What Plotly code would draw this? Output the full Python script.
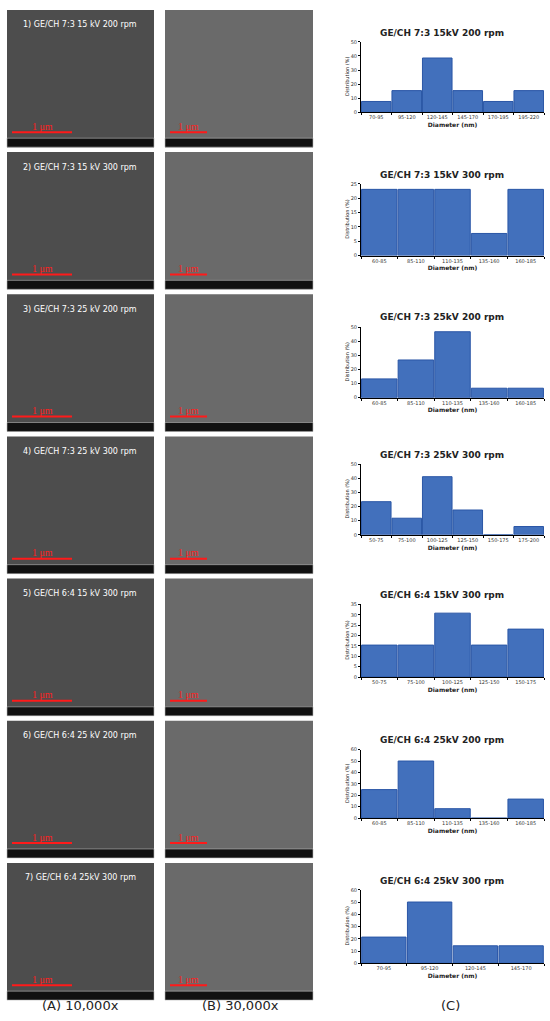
import plotly.graph_objects as go

# ---------------- data ----------------
titles = [
    "GE/CH 7:3 15kV 200 rpm",
    "GE/CH 7:3 15kV 300 rpm",
    "GE/CH 7:3 25kV 200 rpm",
    "GE/CH 7:3 25kV 300 rpm",
    "GE/CH 6:4 15kV 300 rpm",
    "GE/CH 6:4 25kV 200 rpm",
    "GE/CH 6:4 25kV 300 rpm",
]
cats_1 = ["70-95", "95-120", "120-145", "145-170", "170-195", "195-220"]
vals_1 = [7.7, 15.4, 38.5, 15.4, 7.7, 15.4]
cats_2 = ["60-85", "85-110", "110-135", "135-160", "160-185"]
vals_2 = [23.1, 23.1, 23.1, 7.7, 23.1]
cats_3 = ["60-85", "85-110", "110-135", "135-160", "160-185"]
vals_3 = [13.3, 26.7, 46.7, 6.7, 6.7]
cats_4 = ["50-75", "75-100", "100-125", "125-150", "150-175", "175-200"]
vals_4 = [23.5, 11.8, 41.2, 17.6, 0, 5.9]
cats_5 = ["50-75", "75-100", "100-125", "125-150", "150-175"]
vals_5 = [15.4, 15.4, 30.8, 15.4, 23.1]
cats_6 = ["60-85", "85-110", "110-135", "135-160", "160-185"]
vals_6 = [25.0, 50.0, 8.3, 0, 16.7]
cats_7 = ["70-95", "95-120", "120-145", "145-170"]
vals_7 = [21.4, 50.0, 14.3, 14.3]
y_max = [50, 25, 50, 50, 35, 60, 60]
y_dtick = [10, 5, 10, 10, 5, 10, 10]

sem_labels = [
    "1) GE/CH 7:3 15 kV 200 rpm",
    "2) GE/CH 7:3 15 kV 300 rpm",
    "3) GE/CH 7:3 25 kV 200 rpm",
    "4) GE/CH 7:3 25 kV 300 rpm",
    "5) GE/CH 6:4 15 kV 300 rpm",
    "6) GE/CH 6:4 25 kV 200 rpm",
    "7) GE/CH 6:4 25kV 300 rpm",
]
column_labels = ["(A) 10,000x", "(B) 30,000x", "(C)"]

cats = [cats_1, cats_2, cats_3, cats_4, cats_5, cats_6, cats_7]
vals = [vals_1, vals_2, vals_3, vals_4, vals_5, vals_6, vals_7]

# ---------------- layout helpers ----------------
W, H = 550, 1021
def px(x):
    return x / W
def py(y):
    return 1 - y / H

plot_rows = [(39, 110), (182, 254), (326, 397), (464, 535), (605, 678), (751, 820), (892, 966)]
title_y = [30, 173, 316, 455, 596, 741, 883]
PX0, PX1 = 361, 544

FONT = "DejaVu Sans"
BLUE = "#4270BC"
EDGE = "#2A56A6"

fig = go.Figure()
layout = dict(
    width=W, height=H, margin=dict(l=0, r=0, t=0, b=0),
    paper_bgcolor="white", plot_bgcolor="white",
    showlegend=False, bargap=0.03,
    font=dict(family=FONT, color="#222"),
)
annotations = []
shapes = []

def ann(x, y, text, size, color="#222", family=FONT, angle=0):
    annotations.append(dict(
        x=px(x), y=py(y), xref="paper", yref="paper",
        xanchor="center", yanchor="middle",
        text=text, showarrow=False, textangle=angle,
        font=dict(size=size, family=family, color=color),
    ))

for i in range(7):
    n = "" if i == 0 else str(i + 1)
    fig.add_trace(go.Bar(
        x=cats[i], y=vals[i], xaxis="x" + n, yaxis="y" + n,
        marker=dict(color=BLUE, line=dict(color=EDGE, width=1)),
        hoverinfo="x+y",
    ))
    top, bot = plot_rows[i]
    layout["xaxis" + n] = dict(
        domain=[px(PX0), px(PX1)], anchor="y" + n,
        showline=True, linecolor="black", linewidth=1,
        ticks="outside", ticklen=2, tickcolor="black", tickson="boundaries",
        tickfont=dict(size=5, family=FONT, color="#333"),
        title=dict(text="<b>Diameter (nm)</b>", font=dict(size=6, family=FONT, color="#222"), standoff=3),
        showgrid=False, fixedrange=True,
    )
    layout["yaxis" + n] = dict(
        domain=[py(bot), py(top)], anchor="x" + n,
        range=[0, y_max[i]], dtick=y_dtick[i],
        showline=True, linecolor="black", linewidth=1,
        ticks="outside", ticklen=2, tickcolor="black",
        tickfont=dict(size=5, family=FONT, color="#333"),
        showgrid=False, zeroline=False, fixedrange=True,
    )
    ann(442, title_y[i], "<b>" + titles[i] + "</b>", 9)
    ann(347, (top + bot) / 2, "Distribution (%)", 5, angle=-90)

    # SEM image placeholders
    r_top = 7 + 143 * i
    r_bot = r_top + 138
    for (x0, x1, fill, bar_len) in [(7, 154, "#4d4d4d", 60), (165, 313, "#6a6a6a", 37)]:
        shapes.append(dict(type="rect", xref="paper", yref="paper",
                           x0=px(x0), x1=px(x1), y0=py(r_bot), y1=py(r_top),
                           fillcolor=fill, line=dict(width=0), layer="below"))
        shapes.append(dict(type="rect", xref="paper", yref="paper",
                           x0=px(x0), x1=px(x1), y0=py(r_bot), y1=py(r_bot - 9),
                           fillcolor="#111111", line=dict(color="#bbbbbb", width=0.6), layer="below"))
        shapes.append(dict(type="line", xref="paper", yref="paper",
                           x0=px(x0 + 5), x1=px(x0 + 5 + bar_len), y0=py(r_bot - 15), y1=py(r_bot - 15),
                           line=dict(color="#ff1a1a", width=2)))
        ann(x0 + 5 + bar_len / 2, r_bot - 21, "1 μm", 10, color="#ff2020", family="Liberation Serif")
    ann(80, r_top + 15, sem_labels[i], 8, color="white")

for lab, xc in zip(column_labels, [80, 240, 450]):
    ann(xc, 1008, lab, 13)

layout["annotations"] = annotations
layout["shapes"] = shapes
fig.update_layout(**layout)
fig.write_html("out.html", config={"displayModeBar": False},
               post_script="document.body.style.margin='0';document.body.style.overflow='hidden';")
